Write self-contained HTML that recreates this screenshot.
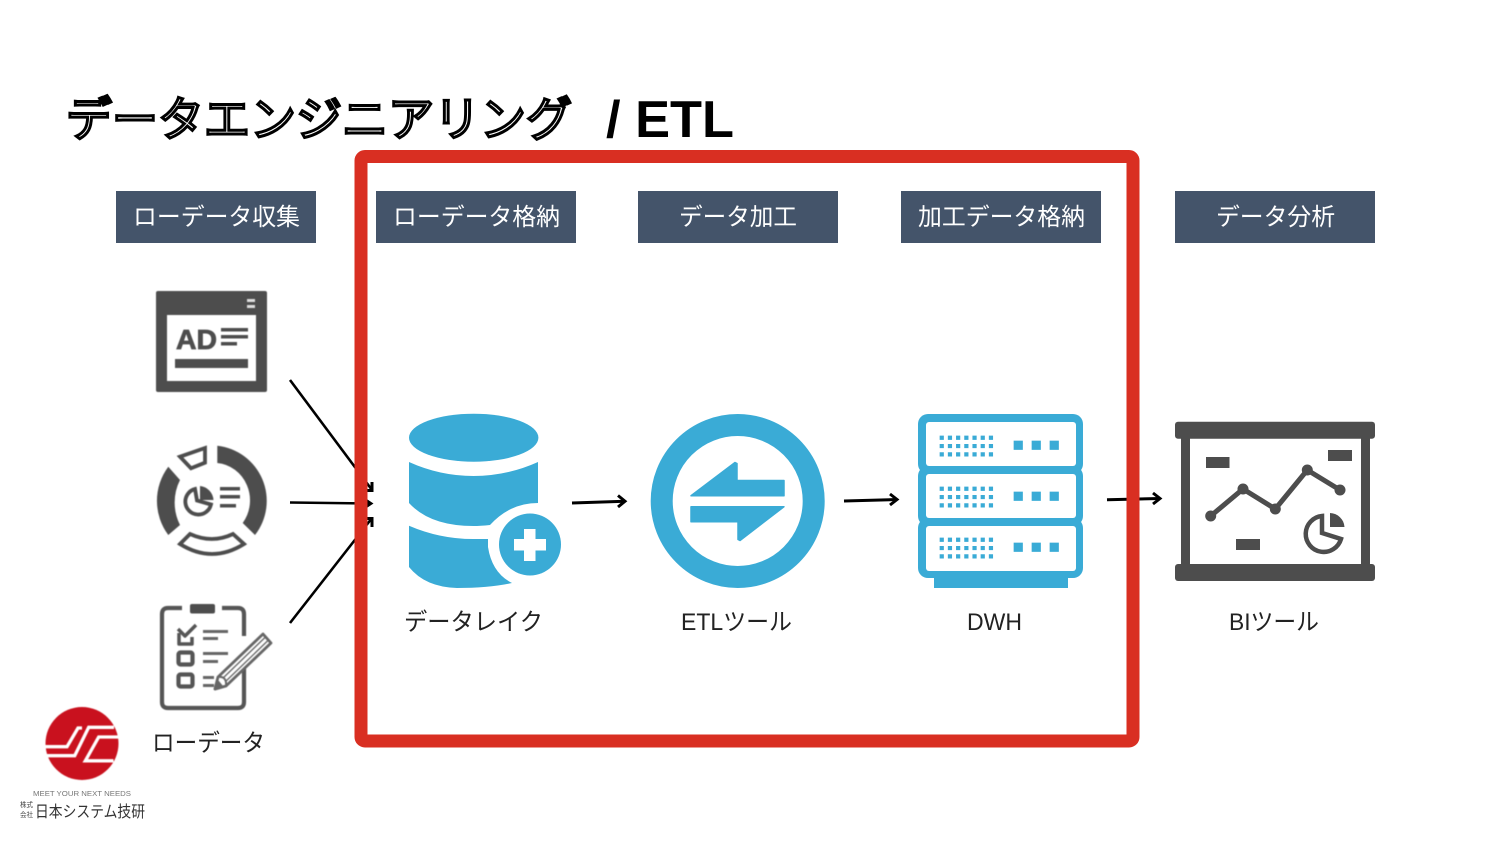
<!DOCTYPE html>
<html lang="ja">
<head>
<meta charset="utf-8">
<title>データエンジニアリング / ETL</title>
<style>
html,body{margin:0;padding:0;background:#fff;width:1500px;height:844px;overflow:hidden}
svg{display:block;font-family:"Liberation Sans","Noto Sans CJK JP",sans-serif}
.h{fill:#fff;font-size:24px}
.l{fill:#222;font-size:24px}
.soft{filter:blur(.45px)}
</style>
</head>
<body>
<svg width="1500" height="844" viewBox="0 0 1500 844" xmlns="http://www.w3.org/2000/svg">
<rect width="1500" height="844" fill="#fff"/>

<!-- title -->
<text x="66" y="136" font-size="47" textLength="506" lengthAdjust="spacingAndGlyphs" fill="#fff" stroke="#000" stroke-width="3" stroke-linejoin="miter" font-family="'Noto Sans CJK JP',sans-serif">データエンジニアリング</text>
<text x="606" y="137" font-size="52" font-weight="700" fill="#000" textLength="128" lengthAdjust="spacingAndGlyphs">/ ETL</text>

<!-- arrows -->
<g stroke="#000" stroke-width="2.600" fill="none">
<path d="M290 380L372 490"/><path d="M372 482V490.500H364" stroke-width="3"/>
<path d="M290 502.500L370 503.500"/>
<path d="M290 623L372 518"/><path d="M372 527V518.500H364" stroke-width="3"/>
<g stroke-width="3">
<path d="M572 503L625 501.200"/><path d="M618 495.500L625 501.200L618 507"/>
<path d="M844 501L897 499.500"/><path d="M890 494L897 499.500L890 505"/>
<path d="M1107 499.800L1160 498.500"/><path d="M1153 493L1160 498.500L1153 504"/>
</g>
</g>
<path d="M366 498.500L373.500 503.500L366 508.500Z" fill="#000"/>

<!-- red frame -->
<rect x="361" y="156.500" width="772" height="584.500" rx="4" fill="none" stroke="#d92f22" stroke-width="13"/>

<!-- headers -->
<g fill="#44546a">
<rect x="116" y="191" width="200" height="52"/>
<rect x="376" y="191" width="200" height="52"/>
<rect x="638" y="191" width="200" height="52"/>
<rect x="901" y="191" width="200" height="52"/>
<rect x="1175" y="191" width="200" height="52"/>
</g>
<text class="h" x="133" y="225" textLength="167" lengthAdjust="spacingAndGlyphs">ローデータ収集</text>
<text class="h" x="393" y="225" textLength="167" lengthAdjust="spacingAndGlyphs">ローデータ格納</text>
<text class="h" x="679" y="225" textLength="118" lengthAdjust="spacingAndGlyphs">データ加工</text>
<text class="h" x="918" y="225" textLength="167" lengthAdjust="spacingAndGlyphs">加工データ格納</text>
<text class="h" x="1216" y="225" textLength="119" lengthAdjust="spacingAndGlyphs">データ分析</text>

<g class="soft">
<!-- AD icon -->
<rect x="156" y="291" width="111" height="101" rx="2" fill="#4d4d4d"/>
<rect x="167" y="315" width="89" height="66" fill="#fff"/>
<rect x="247" y="299" width="8" height="3" fill="#ddd"/>
<rect x="247" y="305" width="8" height="3" fill="#ddd"/>
<text x="176" y="349" font-size="28" font-weight="700" fill="#4d4d4d" stroke="#4d4d4d" stroke-width=".8" textLength="41" lengthAdjust="spacingAndGlyphs">AD</text>
<g fill="#4d4d4d">
<rect x="221" y="328" width="27" height="3.500"/>
<rect x="221" y="335" width="27" height="3.500"/>
<rect x="221" y="342" width="16" height="3.500"/>
<rect x="175" y="359" width="73" height="9"/>
</g>

<!-- donut icon -->
<g fill="#4d4d4d">
<path d="M217.300 445.700A55.500 55.500 0 0 1 255 535L242.700 523A36 37.500 0 0 0 217.300 463Z"/>
<path d="M168.300 466.700L180 480A50 50 0 0 0 180 525L168.300 535A57 57 0 0 1 168.300 466.700Z"/>
<path d="M200 486A15 15 0 0 1 213.500 500L200 500Z"/>
<rect x="220" y="487" width="20" height="3.500"/>
<rect x="220" y="495" width="20" height="3.500"/>
<rect x="220" y="504" width="16" height="3.500"/>
</g>
<g fill="none" stroke="#4d4d4d" stroke-width="3.800">
<path d="M180 456.700L205 448V462.700L191 468.300Z"/>
<path d="M180 544L190 534Q212 544 233 534L244 544Q212 564 180 544Z"/>
<path d="M195 489A13 13 0 1 0 211 504.500L197 500.500Z"/>
</g>

<!-- clipboard icon -->
<g fill="none" stroke="#555" stroke-width="4.200" stroke-linejoin="round">
<path d="M182 608H168Q162 608 162 614V702Q162 708 168 708H238Q244 708 244 702V660"/>
<path d="M222 608H238Q244 608 244 614V636"/>
<rect x="178.500" y="652.500" width="14" height="12" rx="2"/>
<rect x="178.500" y="674.500" width="14" height="12" rx="2"/>
<path d="M179 633V644H192V637" stroke-width="3.500"/>
<path d="M178 629L185 636L196 625" stroke-width="3.500"/>
</g>
<rect x="190" y="604" width="25" height="9.500" rx="2" fill="#4d4d4d"/>
<g fill="#666">
<rect x="203" y="630" width="25" height="3"/>
<rect x="203" y="637" width="15" height="3"/>
<rect x="203" y="652" width="25" height="3"/>
<rect x="203" y="660" width="15" height="3"/>
<rect x="203" y="676" width="11" height="3"/>
<rect x="203" y="684" width="11" height="3"/>
</g>
<g fill="#fff" stroke="#666" stroke-width="2.800" stroke-linejoin="round">
<path d="M263 634L271 643L226 686L215 689L218 677Z"/>
<path d="M221 680L265.500 637M224 683L268.500 640" stroke-width="1.300" fill="none"/>
<path d="M218 677Q227 676 226 686" stroke-width="2"/>
<path d="M215 689L218 682L222 687Z" fill="#666"/>
</g>

<!-- logo -->
<circle cx="82" cy="743.500" r="36.500" fill="#c9111e"/>
<g fill="none" stroke="#fff" stroke-width="3.300">
<path d="M45 746.700H67L78 728H82"/>
<path d="M46 755.700H74.700L88.700 727.300H114"/>
<path d="M118.500 737H98.700L85.300 760.800H113.500"/>
</g>
</g>
<text x="33" y="796" font-size="7.500" fill="#777" textLength="98" lengthAdjust="spacingAndGlyphs">MEET YOUR NEXT NEEDS</text>
<text x="20" y="807" font-size="7" fill="#444" textLength="13" lengthAdjust="spacingAndGlyphs">株式</text>
<text x="20" y="817" font-size="7" fill="#444" textLength="13" lengthAdjust="spacingAndGlyphs">会社</text>
<text x="35" y="817" font-size="16" fill="#333" textLength="110" lengthAdjust="spacingAndGlyphs">日本システム技研</text>

<!-- data lake icon -->
<g fill="#3aabd6">
<ellipse cx="473.700" cy="437.700" rx="64.700" ry="24"/>
<path d="M409 462Q440 476 473.500 476Q507 476 538 462V503Q510 503 490 525Q480 526 473.500 526Q430 526 409 503Z"/>
<path d="M409 525.700Q440 539 473 539H488V547Q492 573 512 583Q490 588 457 588Q425 587 409 567Z"/>
<circle cx="530" cy="544.500" r="31"/>
</g>
<g fill="#fff">
<rect x="514" y="539" width="32" height="11.500"/>
<rect x="524" y="529" width="11.500" height="32"/>
</g>

<!-- ETL icon -->
<circle cx="737.700" cy="501" r="76" fill="none" stroke="#3aabd6" stroke-width="22"/>
<g fill="#3aabd6" stroke="#3aabd6" stroke-width="1.500" stroke-linejoin="round">
<path d="M691 495.700L735 462.500L737 463.500V480.500H784V495.700Z"/>
<path d="M691 506.700H784L740 540.500L738 539.500V521.700H691Z"/>
</g>

<!-- DWH icon -->
<g fill="#3aabd6">
<rect x="918" y="414" width="165" height="60" rx="10"/>
<rect x="918" y="466" width="165" height="60" rx="10"/>
<rect x="918" y="518" width="165" height="60" rx="10"/>
<rect x="934" y="575" width="134" height="13"/>
</g>
<g fill="#fff">
<rect x="926" y="422" width="150" height="44" rx="3"/>
<rect x="926" y="474" width="150" height="44" rx="3"/>
<rect x="926" y="526" width="150" height="45" rx="3"/>
</g>
<g fill="#3aabd6" stroke="#3aabd6" stroke-width=".7">
<g id="u1">
<rect x="1014" y="441" width="8.500" height="8.500"/><rect x="1032" y="441" width="8.500" height="8.500"/><rect x="1050" y="441" width="8.500" height="8.500"/>
<path d="M940 436h3.500v3.500h-3.500zM948.200 436h3.500v3.500h-3.500zM956.400 436h3.500v3.500h-3.500zM964.600 436h3.500v3.500h-3.500zM972.800 436h3.500v3.500h-3.500zM981 436h3.500v3.500h-3.500zM989.200 436h3.500v3.500h-3.500z"/>
<path d="M940 444.300h3.500v3.500h-3.500zM948.200 444.300h3.500v3.500h-3.500zM956.400 444.300h3.500v3.500h-3.500zM964.600 444.300h3.500v3.500h-3.500zM972.800 444.300h3.500v3.500h-3.500zM981 444.300h3.500v3.500h-3.500zM989.200 444.300h3.500v3.500h-3.500z"/>
<path d="M940 452.600h3.500v3.500h-3.500zM948.200 452.600h3.500v3.500h-3.500zM956.400 452.600h3.500v3.500h-3.500zM964.600 452.600h3.500v3.500h-3.500zM972.800 452.600h3.500v3.500h-3.500zM981 452.600h3.500v3.500h-3.500zM989.200 452.600h3.500v3.500h-3.500z"/>
</g>
<use href="#u1" y="51"/>
<use href="#u1" y="102"/>
</g>

<!-- BI icon -->
<g fill="#4d4d4d">
<rect x="1175" y="421.700" width="200" height="17" rx="3"/>
<rect x="1175" y="564" width="200" height="17" rx="3"/>
<rect x="1181" y="436" width="9" height="130"/>
<rect x="1361" y="436" width="9" height="130"/>
<rect x="1206" y="457" width="23.500" height="11"/>
<rect x="1328" y="450" width="24" height="11"/>
<rect x="1236" y="539" width="24" height="11"/>
<circle cx="1210.700" cy="516" r="5.500"/>
<circle cx="1243" cy="489" r="5.500"/>
<circle cx="1275.300" cy="509" r="5.500"/>
<circle cx="1307.300" cy="470" r="5.500"/>
<circle cx="1340" cy="490" r="5.500"/>
<path d="M1330 513A15 15 0 0 1 1344.500 527H1330Z"/>
</g>
<path d="M1210.700 516L1243 489L1275.300 509L1307.300 470L1340 490" fill="none" stroke="#4d4d4d" stroke-width="5"/>
<path d="M1322 516A18 18 0 1 0 1341 539L1322 533Z" fill="none" stroke="#4d4d4d" stroke-width="4.500"/>

<!-- labels -->
<text class="l" x="404" y="630" textLength="139" lengthAdjust="spacingAndGlyphs">データレイク</text>
<text class="l" x="681" y="630" textLength="111" lengthAdjust="spacingAndGlyphs">ETLツール</text>
<text class="l" x="967" y="630" textLength="55" lengthAdjust="spacingAndGlyphs">DWH</text>
<text class="l" x="1229" y="630" textLength="90" lengthAdjust="spacingAndGlyphs">BIツール</text>
<text class="l" x="152" y="751" textLength="113" lengthAdjust="spacingAndGlyphs">ローデータ</text>
</svg>
</body>
</html>
